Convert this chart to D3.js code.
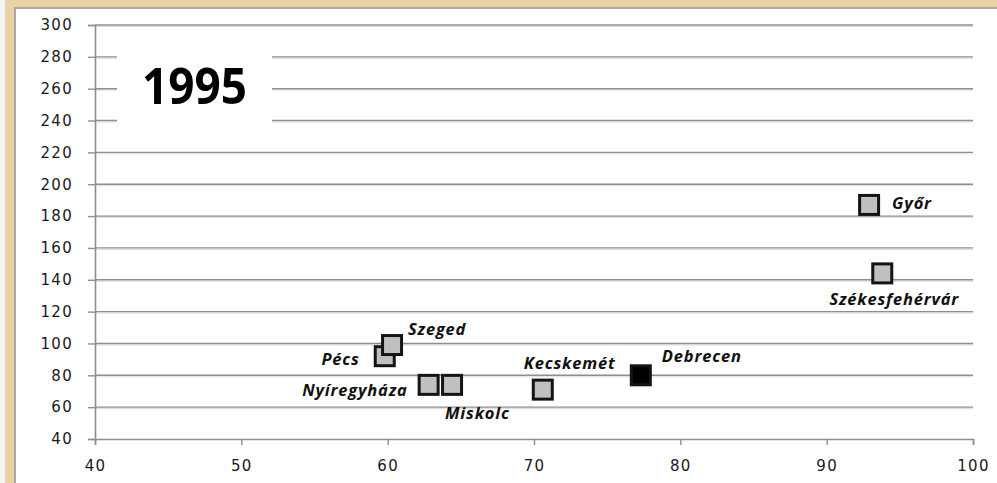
<!DOCTYPE html>
<html>
<head>
<meta charset="utf-8">
<script src="https://cdn.jsdelivr.net/npm/d3@7"></script>
<style>
  html, body { margin: 0; background: #fff; overflow: hidden; }
  svg { display: block; }
</style>
</head>
<body>
<div id="chart"></div>
<script>
// városok (1995)
const cities = ["Győr", "Székesfehérvár", "Debrecen", "Kecskemét", "Nyíregyháza", "Miskolc", "Pécs", "Szeged"];
const xValues = [92.9, 93.8, 77.3, 70.6, 62.8, 64.4, 59.8, 60.3];
const yValues = [187, 144, 80, 71, 74, 74, 92, 99];
const highlighted = ["Debrecen"];
const xTicks = [40, 50, 60, 70, 80, 90, 100];
const yTicks = d3.range(40, 301, 20);
const title = "1995";

// címkék elhelyezése a jelölőhöz képest
const labelLayout = {
  "Győr":           {dx: 23,  dy: 4,   anchor: "start"},
  "Székesfehérvár": {dx: 12,  dy: 32,  anchor: "middle"},
  "Debrecen":       {dx: 21,  dy: -13, anchor: "start"},
  "Kecskemét":      {dx: -19, dy: -21, anchor: "start"},
  "Nyíregyháza":    {dx: -21, dy: 11,  anchor: "end"},
  "Miskolc":        {dx: -7,  dy: 34,  anchor: "start"},
  "Pécs":           {dx: -25, dy: 9,   anchor: "end"},
  "Szeged":         {dx: 16,  dy: -10, anchor: "start"}
};

const W = 997, H = 483;
const plot = {left: 95, right: 973, top: 25, bottom: 439};

const svg = d3.select("#chart").append("svg")
  .attr("width", W)
  .attr("height", H);

// keret (pergamen sáv)
svg.append("rect").attr("x", 0).attr("y", 0).attr("width", W).attr("height", H).attr("fill", "#efe9dc");
svg.append("rect").attr("x", 5).attr("y", 0).attr("width", W - 5).attr("height", H).attr("fill", "#e9d3a5");
svg.append("rect").attr("x", 0).attr("y", 0).attr("width", 5).attr("height", H).attr("fill", "#f4f4f4");
svg.append("rect").attr("x", 14).attr("y", 7).attr("width", W - 14).attr("height", H - 7).attr("fill", "#a8a8a8");
svg.append("rect").attr("x", 16).attr("y", 9).attr("width", W - 16).attr("height", H - 9).attr("fill", "#ffffff");

const x = d3.scaleLinear().domain([40, 100]).range([plot.left, plot.right]);
const y = d3.scaleLinear().domain([40, 300]).range([plot.bottom, plot.top]);

// rácsvonalak
const grid = svg.append("g");
grid.selectAll("line.shadow")
  .data(yTicks.filter(d => d > 40))
  .enter().append("line")
  .attr("class", "shadow")
  .attr("x1", plot.left).attr("x2", plot.right)
  .attr("y1", d => y(d) + 1.5).attr("y2", d => y(d) + 1.5)
  .attr("stroke", "#dcdcdc").attr("stroke-width", 1);
grid.selectAll("line.grid")
  .data(yTicks.filter(d => d > 40))
  .enter().append("line")
  .attr("class", "grid")
  .attr("x1", plot.left).attr("x2", plot.right)
  .attr("y1", d => y(d)).attr("y2", d => y(d))
  .attr("stroke", "#8e8e8e").attr("stroke-width", 1.4);

// tengelyek
const yAxis = svg.append("g")
  .attr("transform", `translate(${plot.left},0)`)
  .call(d3.axisLeft(y).tickValues(yTicks).tickSize(7).tickPadding(15));
const xAxis = svg.append("g")
  .attr("transform", `translate(0,${plot.bottom})`)
  .call(d3.axisBottom(x).tickValues(xTicks).tickSize(6).tickPadding(15));

[yAxis, xAxis].forEach(a => {
  a.select(".domain").attr("stroke", "#8e8e8e").attr("stroke-width", 1.6);
  a.selectAll(".tick line").attr("stroke", "#8e8e8e").attr("stroke-width", 1.4);
  a.selectAll(".tick text")
    .attr("fill", "#1a1a1a")
    .attr("font-family", "DejaVu Sans, sans-serif")
    .attr("font-size", 15)
    .attr("letter-spacing", 1.3);
});

// cím doboz
svg.append("rect")
  .attr("x", 117).attr("y", 44).attr("width", 155).attr("height", 86)
  .attr("fill", "#ffffff");
svg.append("text")
  .attr("x", 142).attr("y", 104)
  .attr("font-family", "'Open Sans', sans-serif")
  .attr("font-weight", "bold")
  .attr("font-size", 51)
  .attr("textLength", 105)
  .attr("lengthAdjust", "spacingAndGlyphs")
  .attr("fill", "#000")
  .text(title);

// pontok
const points = cities.map((c, i) => ({name: c, x: xValues[i], y: yValues[i]}));
const size = 19;

svg.append("g").selectAll("rect")
  .data(points)
  .enter().append("rect")
  .attr("x", d => x(d.x) - size / 2)
  .attr("y", d => y(d.y) - size / 2)
  .attr("width", size).attr("height", size)
  .attr("fill", d => highlighted.includes(d.name) ? "#000" : "#c0c0c0")
  .attr("stroke", "#141414")
  .attr("stroke-width", 3);

svg.append("g").selectAll("text")
  .data(points)
  .enter().append("text")
  .attr("x", d => x(d.x) + labelLayout[d.name].dx)
  .attr("y", d => y(d.y) + labelLayout[d.name].dy)
  .attr("text-anchor", d => labelLayout[d.name].anchor)
  .attr("font-family", "'Open Sans', sans-serif")
  .attr("font-weight", "bold")
  .attr("font-style", "italic")
  .attr("font-size", 16.5)
  .attr("letter-spacing", 0.8)
  .attr("fill", "#111")
  .text(d => d.name);
</script>
</body>
</html>
